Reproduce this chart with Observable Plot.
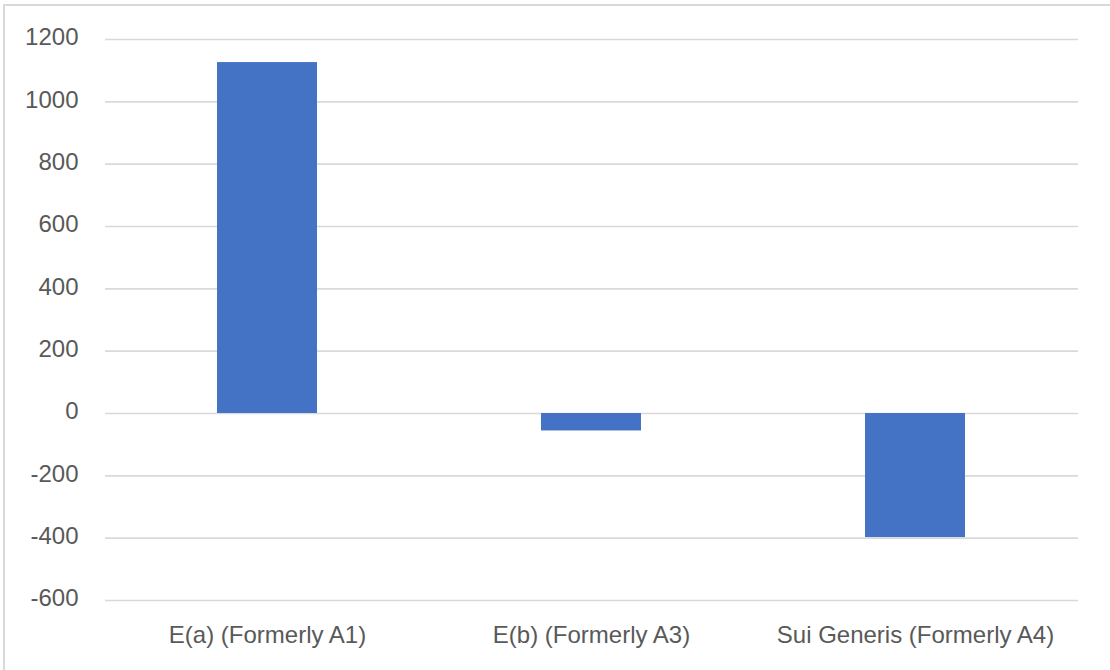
<!DOCTYPE html>
<html>
<head>
<meta charset="utf-8">
<script src="https://cdn.jsdelivr.net/npm/d3@7"></script>
<script src="https://cdn.jsdelivr.net/npm/@observablehq/plot@0.6"></script>
<style>
  html, body { margin: 0; padding: 0; background: #fff; }
  #wrap { position: relative; width: 1110px; height: 670px; overflow: hidden; }
  #frame { position: absolute; left: 3px; top: 4px; width: 1200px; height: 800px;
           border-left: 2px solid #d9d9d9; border-top: 2px solid #d9d9d9; box-sizing: border-box; }
  #chart { position: absolute; left: 0; top: 0; }
</style>
</head>
<body>
<div id="wrap"><div id="frame"></div><div id="chart"></div></div>
<script>
const categories = ["E(a) (Formerly A1)", "E(b) (Formerly A3)", "Sui Generis (Formerly A4)"];
const values = [1126, -56, -398];
const yTicks = [-600, -400, -200, 0, 200, 400, 600, 800, 1000, 1200];

const data = categories.map((c, i) => ({category: c, value: values[i]}));

const chart = Plot.plot({
  width: 1110,
  height: 670,
  marginLeft: 105,
  marginRight: 32,
  marginTop: 39,
  marginBottom: 70,
  style: {fontFamily: "'Liberation Sans', Arial, sans-serif", fontSize: "24px", color: "#595959", background: "transparent"},
  x: {domain: categories, paddingInner: 0.69, paddingOuter: 0.345, align: 0.5, label: null},
  y: {domain: [-600, 1200], label: null},
  marks: [
    Plot.gridY(yTicks, {stroke: "#d9d9d9", strokeOpacity: 1, strokeWidth: 1.6}),
    Plot.barY(data, {x: "category", y: "value", fill: "#4472C4"}),
    Plot.axisY(yTicks, {tickSize: 0, tickPadding: 27, dy: -2, fill: "#595959", fontSize: 24, label: null, tickFormat: d => String(d)}),
    Plot.axisX({tickSize: 0, tickPadding: 25, fill: "#595959", fontSize: 24, label: null})
  ]
});
document.getElementById("chart").appendChild(chart);
</script>
</body>
</html>
